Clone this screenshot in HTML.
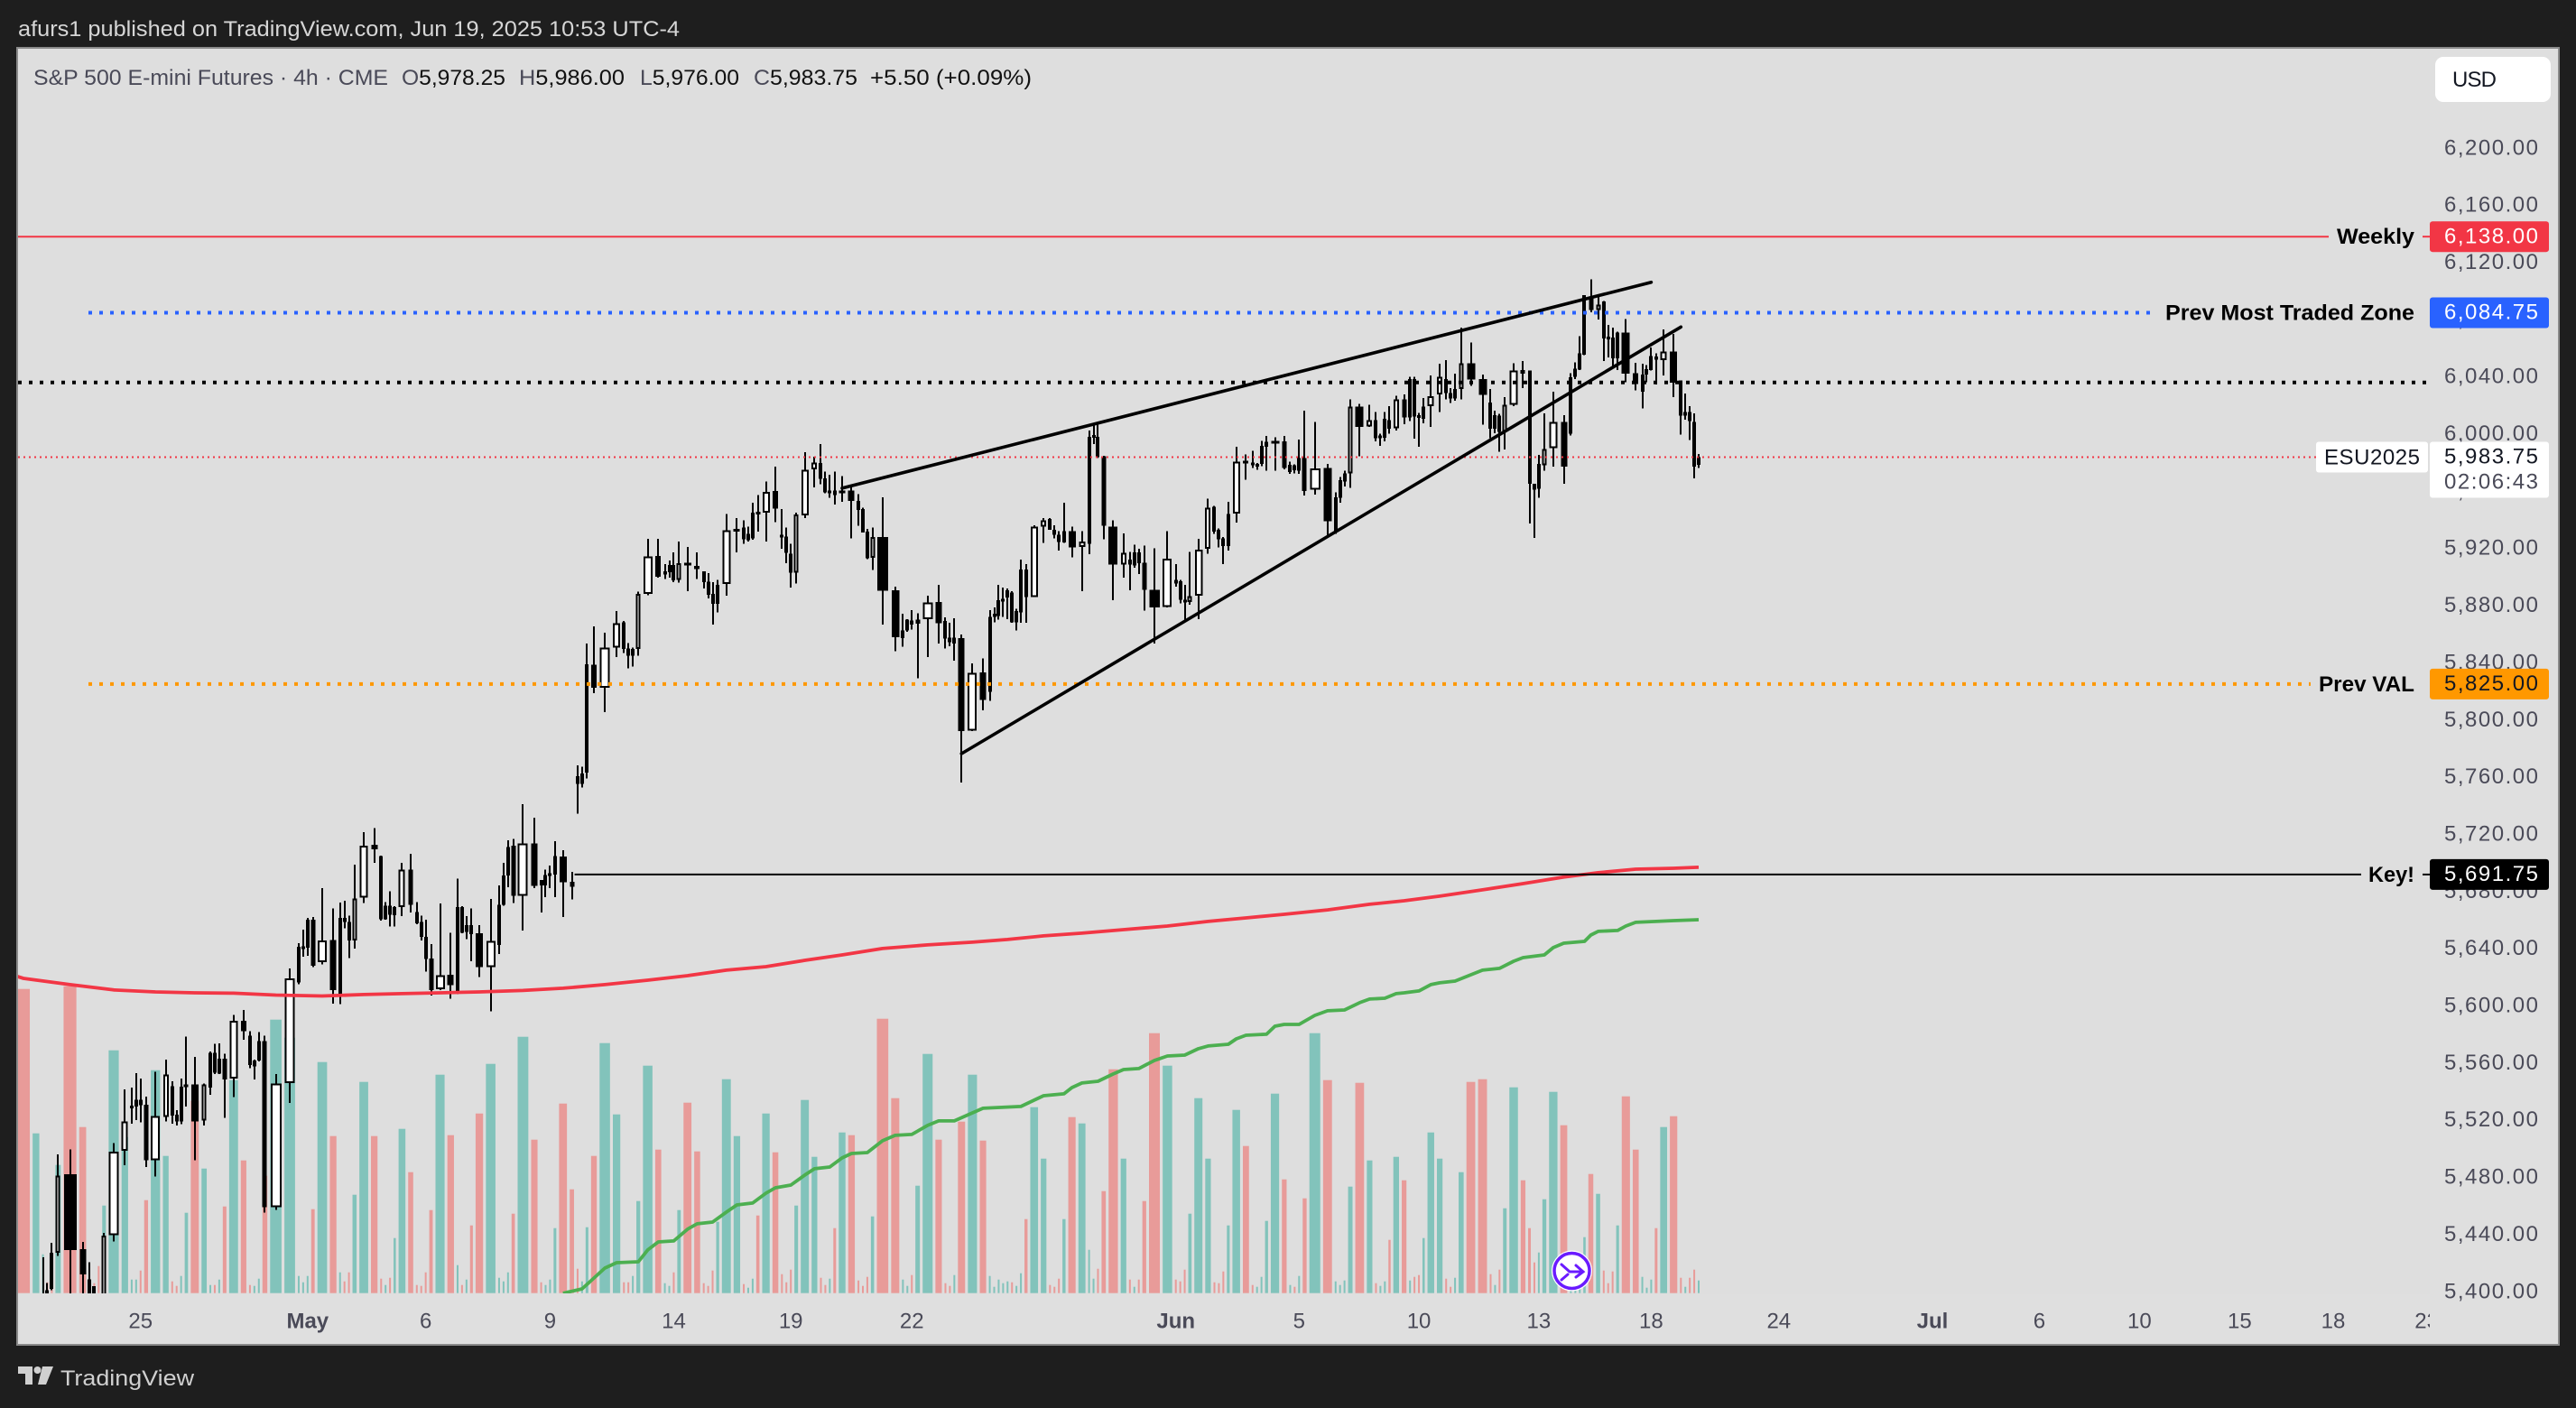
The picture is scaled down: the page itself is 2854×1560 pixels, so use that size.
<!DOCTYPE html>
<html lang="en">
<head>
<meta charset="utf-8">
<title>S&amp;P 500 E-mini Futures 4h chart</title>
<style>
html,body{margin:0;padding:0;background:#1e1e1e;width:2854px;height:1560px;overflow:hidden}
svg{display:block}
text{font-family:"Liberation Sans",sans-serif;font-size:24px}
</style>
</head>
<body>
<svg id="chart" xmlns="http://www.w3.org/2000/svg" width="2854" height="1560" viewBox="0 0 2854 1560">
  <defs>
    <clipPath id="pane-clip"><rect x="20" y="54" width="2672" height="1379"/></clipPath>
    <clipPath id="time-clip"><rect x="20" y="1434" width="2672" height="55"/></clipPath>
  </defs>
  <rect x="0" y="0" width="2854" height="1560" fill="#1e1e1e"/>
  <text x="20" y="40" fill="#d6d6d6" textLength="733" lengthAdjust="spacingAndGlyphs">afurs1 published on TradingView.com, Jun 19, 2025 10:53 UTC-4</text>
  <rect x="19" y="53" width="2816" height="1437" fill="#dedede" stroke="#8a8a8a" stroke-width="2"/>
  <rect x="2692" y="54" width="142" height="1435" fill="#dfdfdf"/>
  <rect x="20" y="1434" width="2672" height="55" fill="#dfdfdf"/>
  <g id="volume-layer" clip-path="url(#pane-clip)"></g>
  <g id="candle-layer" clip-path="url(#pane-clip)" shape-rendering="crispEdges"></g>
  <g id="ma-layer" clip-path="url(#pane-clip)"></g>
  <g id="level-layer" clip-path="url(#pane-clip)"></g>
  <g id="trend-layer" clip-path="url(#pane-clip)"></g>
  <g id="price-axis"></g>
  <g id="time-axis" clip-path="url(#time-clip)"></g>
  <g id="level-labels"></g>

  <g>
    <text x="37" y="94" fill="#4a4a58" textLength="393" lengthAdjust="spacingAndGlyphs">S&amp;P 500 E-mini Futures · 4h · CME</text>
    <text x="445" y="94" fill="#111" textLength="115" lengthAdjust="spacingAndGlyphs"><tspan fill="#4a4a58">O</tspan>5,978.25</text>
    <text x="575" y="94" fill="#111" textLength="117" lengthAdjust="spacingAndGlyphs"><tspan fill="#4a4a58">H</tspan>5,986.00</text>
    <text x="709" y="94" fill="#111" textLength="110" lengthAdjust="spacingAndGlyphs"><tspan fill="#4a4a58">L</tspan>5,976.00</text>
    <text x="835" y="94" fill="#111" textLength="115" lengthAdjust="spacingAndGlyphs"><tspan fill="#4a4a58">C</tspan>5,983.75</text>
    <text x="964" y="94" fill="#111" textLength="179" lengthAdjust="spacingAndGlyphs">+5.50 (+0.09%)</text>
  </g>

  <g>
    <rect x="2698" y="63" width="128" height="50" rx="9" fill="#ffffff"/>
    <text x="2717" y="96" fill="#131722" textLength="49">USD</text>
  </g>

  <g>
    <circle cx="1741.5" cy="1408" r="22.5" fill="#ffffff"/>
    <circle cx="1741.5" cy="1408" r="19.5" fill="#ffffff" stroke="#6a1bff" stroke-width="3.5"/>
    <path d="M1730 1401l9 8h15M1746 1402l8 7-8 6M1737 1412l-7 6" fill="none" stroke="#6a1bff" stroke-width="3" stroke-linecap="round"/>
  </g>

  <g>
    <path d="M20 1514h16v20h-8v-12h-8z" fill="#d0d0d0"/>
    <circle cx="41.500" cy="1518" r="4" fill="#d0d0d0"/>
    <path d="M47 1514h12l-8 20h-9z" fill="#d0d0d0"/>
    <text x="67" y="1535" fill="#d0d0d0" textLength="148" lengthAdjust="spacingAndGlyphs">TradingView</text>
  </g>
</svg>

<script>
// ---- Bar data ----
const opens = [
5390,5345,5380,5401,5427,5427,5482,5429.5,5408.5,5403.75,5395,5395,
5439.5,5498.5,5529.5,5529.5,5534.25,5530.75,5492,5522.25,5543.75,5523.75,5519,5543,
5544.75,5519.75,5542.75,5567,5552.5,5563,5549,5589.5,5579,5557.5,5561.5,5575.25,
5459,5545.75,5616.25,5641,5640.5,5660,5630.5,5646,5608.5,5661.25,5658.5,5645.75,
5675.75,5712.5,5704.75,5660.5,5670,5663.25,5669,5695.25,5665.5,5658.5,5648.25,5633,
5611.5,5621.5,5609,5669,5651.5,5656.25,5650.75,5627,5642.5,5670.5,5691,5711.75,
5677,5713.5,5688,5684,5691.5,5691.75,5704.25,5686.5,5760.5,5755.25,5763,5838.5,
5822.5,5850.5,5868.25,5850,5844.75,5849.5,5888,5914.5,5901.5,5903.25,5908.25,5898,
5910,5907.5,5903.75,5896.75,5888,5881,5895,5933.25,5934.5,5925.75,5926.75,5945.5,
5944.75,5960,5929.5,5928.25,5916.25,5903,5943,5975.25,5979.5,5969,5959.5,5960.5,
5958.5,5960.5,5953,5947.5,5931.5,5913.25,5928,5890.5,5857.25,5862.5,5869.5,5867.25,
5870.5,5882.25,5869,5857.5,5853.5,5857,5792.5,5833,5819.5,5872,5872.5,5883.25,
5885.5,5889,5868.25,5875,5905,5886,5935.25,5940.5,5933,5929.5,5924,5932,
5921,5923,5998.5,5998,5984.5,5935.25,5908.5,5912,5908,5917,5910,5891,
5879,5897.75,5897,5884,5882.25,5886.75,5919.5,5949,5933,5926.75,5921.5,5944.25,
5981.25,5980,5977,5979,5991,5994.5,5994.75,5973.25,5978,5974.25,5983.25,5961,
5976.25,5931,5955.25,5966.75,5972.5,6019,6005.25,6009.75,5997.75,5997.25,6009.75,6004,
6024,6011.5,6038.5,6013,6010.5,6019.5,6027.5,6038.5,6028.5,6024.75,6031.5,6049.5,
6038.5,6022,6003.5,6012.75,6001.5,6020.5,6044.75,6044.25,5965,5961.5,5978,5990,
6008.5,6000,6040,6045,6055.5,6094.75,6086.75,6092.75,6068,6067.5,6053,6071,
6042.5,6029.5,6041.5,6044.75,6054.25,6051.5,6057.75,6037.5,6012.75,6015.25,6008.5,5978.25
];
const highs = [
5395,5390,5424,5406,5434,5496,5499.5,5434.75,5420.5,5403.75,5397,5441,
5504,5541.5,5542.75,5552.75,5549,5536.25,5553.75,5562.25,5547,5527,5549,5578.5,
5564.25,5545.5,5568,5573.25,5573.5,5566.5,5593.5,5597,5582.25,5562.25,5581.5,5579,
5552,5626,5643.75,5653.25,5661.5,5662,5682.25,5668,5672,5673.25,5663,5698.5,
5721.25,5724.25,5705,5672.5,5680,5669.5,5700,5706.25,5672.5,5663,5660,5643,
5671.5,5651,5689,5669.5,5662.5,5668,5656.25,5674.5,5684,5700,5715.75,5716.75,
5741,5731.5,5688,5695.25,5698,5715,5708.75,5693.5,5768,5767.25,5853.25,5865.25,
5861,5876,5869,5853.75,5850.5,5889.75,5926.5,5926.5,5909,5911.5,5917,5924.75,
5921,5917,5903.75,5902.5,5896.25,5897.75,5944,5941,5939.5,5935.25,5951.75,5957.25,
5966.75,5977,5947.5,5934.5,5923.25,5944.75,5987.25,5984,5992.75,5973.75,5971.5,5973.75,
5970.5,5962.5,5958,5948.5,5933.5,5934.5,5955.75,5893,5874.25,5870.5,5876.75,5874.5,
5886.75,5894.25,5871.75,5868,5871,5859.5,5839.5,5843,5876.75,5878.75,5894.25,5892.5,
5891.75,5890,5877.5,5912,5909,5936,5941.25,5941,5936,5932,5952,5935.25,
5932,6002.25,6006.75,6006.75,5984.75,5939.5,5930.5,5917.5,5922.5,5919.5,5922,5920,
5932,5909,5898,5894.25,5917.5,5926.5,5954.75,5949.5,5933.75,5928,5952.5,5991,
5985.5,5988,5979.5,5995.25,5998.5,5997.75,5998.5,5980.5,5978.75,5996,6016.25,6008.5,
5979,5959.25,5970,5974.25,6024,6021,6020.5,6015.25,6000,6015.25,6019.5,6026.75,
6027.5,6040,6040,6014.75,6025,6041,6049,6051.5,6032,6042.25,6074.25,6064,
6041.5,6031.5,6016.25,6014,6025.75,6049.5,6051,6044.25,5965.25,5985.25,6014.25,6029.5,
6013,6042.5,6050,6068.5,6097,6108.25,6096.25,6093,6076.25,6074.25,6071.5,6080.5,
6049.75,6049,6048,6060.5,6056.25,6073,6070,6037.5,6028.25,6019.5,6014.5,5986
];
const lows = [
5340,5340,5370,5390,5401,5425,5395,5395,5390,5392,5385,5390,
5435,5488.5,5517.5,5520,5518.5,5487,5480.5,5519,5517.5,5516.25,5517,5529.5,
5491.75,5516.25,5537.5,5552,5552.25,5521.5,5536,5576.25,5556.25,5548.5,5561,5455.25,
5457,5532,5615,5634.25,5635,5627,5628.75,5601.5,5601,5654.25,5633.25,5640,
5671.75,5700,5659.5,5660,5655.25,5655.25,5662.5,5665.25,5657,5645.75,5623.75,5607,
5611,5604.75,5608,5650.75,5646.5,5631,5620,5596,5636.25,5670,5683,5671.75,
5652.5,5682.25,5665.25,5676,5682.25,5676,5662,5674.25,5734.25,5752.5,5759,5818.75,
5805.5,5844,5846.75,5836,5837.25,5844.75,5887,5899.5,5898.5,5899.5,5896.25,5896,
5890,5898.5,5892,5885,5866.75,5875,5886.75,5917.25,5923,5924.75,5926,5931.75,
5924.75,5938.25,5919.75,5909.5,5892.5,5895.25,5941,5962.5,5964.75,5958.5,5955.25,5950.5,
5952.5,5926.75,5935.75,5931,5912.5,5904.75,5866.75,5848,5851,5861.5,5863.25,5829,
5843.75,5853.5,5849.75,5851.5,5841.5,5756.25,5792,5806.75,5813.25,5868.25,5870,5872,
5870.5,5868,5862.5,5868,5868,5886,5923.75,5933,5926.75,5918.5,5923.75,5913.5,
5890,5916,5993,5983.25,5926.25,5883.75,5899.5,5890.5,5906.5,5902,5876.25,5853.25,
5878.75,5893.25,5881.5,5870,5880.5,5870.5,5916.25,5930,5920.5,5909,5918.5,5938,
5968,5976.25,5974.75,5977.5,5974.25,5974.25,5975.25,5972,5972.5,5972,5957,5957.5,
5928.5,5930,5952,5963.25,5962.25,5984.25,6004.75,5994.75,5991.5,5994.75,6000,6002.5,
6006.75,6009,5996.75,5991,6007.5,6005,6015.25,6024,6021.5,6023.25,6024,6033.75,
6006.5,5997,6000.5,5987.5,5989.25,6019.5,6032,5937.25,5927.25,5955.25,5974.25,5977.25,
5965,5999,6038.5,6044.75,6055,6085,6080,6051,6053.5,6047.25,6044.75,6036.25,
6030.5,6017.75,6036,6044.25,6034.5,6041,6025.75,5999.5,6010,5995.75,5969,5976
];
const closes = [
5350,5385,5390,5395,5402,5481,5429,5412,5395,5396,5390,5439,
5498,5519,5530,5534.25,5530.5,5492,5522.75,5551.75,5523.25,5519,5543.25,5544.75,
5519,5544.75,5567,5553.25,5563,5548.5,5589.5,5582.25,5558.5,5561.5,5575.25,5459,
5545.5,5619,5641.25,5641.5,5660,5628,5645.75,5611,5661.25,5658.5,5645.75,5675,
5712,5709.5,5660.5,5670,5663.75,5669,5695.25,5670.5,5657.75,5648.25,5632.5,5610.75,
5621.25,5614.25,5669,5651,5656.25,5650,5627,5645.25,5670.5,5691,5711,5676.75,
5713.5,5683.75,5684,5691.5,5692.75,5704.75,5686.25,5683.25,5755.25,5762.5,5838.75,5822.5,
5850.5,5867.5,5849.5,5844.75,5849.5,5888,5914.25,5900,5903.75,5908.25,5897.5,5909.5,
5908,5905.5,5896.25,5887.5,5881,5894.25,5932.5,5933.5,5926.25,5930,5944.75,5944.75,
5959.5,5947.75,5928.25,5916.75,5903,5943.75,5974.75,5980,5968.5,5959,5960.5,5957.25,
5960.5,5953,5946.75,5931,5913,5928,5890.25,5857.75,5862.5,5870,5866.75,5870,
5882,5867.5,5856.75,5854.25,5857.5,5792,5832.75,5814,5872,5874.25,5883.75,5884.75,
5890.5,5868.25,5876,5905,5885.75,5935.25,5939.5,5933,5929.5,5924.25,5932,5920.5,
5924.75,5998,5999.25,5983.75,5935.75,5908.5,5916.75,5908.5,5917,5909.5,5891,5878.75,
5912.75,5895.25,5884,5882.25,5886.5,5919,5948.25,5931.5,5926.25,5921.5,5944,5980.5,
5980.75,5978.5,5979,5991.75,5994.5,5995,5976,5978.5,5974.5,5983.25,5960,5975.75,
5938.75,5955.5,5967.5,5972.5,6019,6004.75,6009.5,5997,5998.75,6010.5,6003.5,6024,
6011.5,6038.5,6012,6012,6019,6026.5,6040,6028.5,6024.75,6031.5,6049.25,6038,
6027.25,6003.5,6013,6001.5,6020.5,6044.25,6042.25,5965,5961,5979,5989.5,6008.5,
5977.25,6039.5,6045.75,6056.25,6097,6086.5,6090.5,6066.75,6067,6053,6071,6042.25,
6034.75,6041.5,6045.25,6054.5,6052,6057.75,6035.75,6012.75,6015.25,6009,5977.25,5983.75
];
const volumes = [
337,177,43,12,14,142,340,184,10,11,30,97,
269,173,15,15,25,103,247,152,13,8,19,89,
213,138,9,9,15,96,236,147,9,8,16,130,
303,283,19,12,19,93,256,174,23,13,23,109,
234,174,16,9,17,61,182,134,9,8,23,92,
242,175,31,9,15,75,199,254,17,13,23,88,
284,170,12,9,15,72,210,115,27,13,73,152,
277,198,12,12,19,102,252,159,11,8,23,92,
211,157,11,8,25,79,237,174,10,6,16,86,
199,156,21,12,26,97,214,151,17,9,16,72,
178,175,14,8,18,85,304,216,15,8,20,119,
265,170,11,8,20,190,242,169,19,7,15,11,
13,12,8,22,82,206,149,9,7,16,82,195,
188,48,16,27,113,248,149,15,7,15,102,288,
252,15,13,26,88,216,149,12,11,24,75,203,
163,9,7,18,80,221,126,9,7,19,105,288,
236,13,9,14,118,233,147,11,8,13,59,151,
125,14,18,20,61,178,149,16,7,17,134,234,
237,21,9,26,94,228,125,72,34,45,104,223,
186,30,25,20,62,132,110,25,11,24,75,218,
159,18,6,15,72,184,196,17,7,17,26,14
];

// ---- Moving averages, sampled at bar numbers ----
const redMaBars = [-1,0,6,12,18,24,30,36,42,48,54,60,66,72,78,84,90,96,102,108,114,120,126,132,138,144,150,156,162,168,174,180,186,192,198,204,210,216,222,228,234,240,246,251];
const redMaValues = [5621.6,5619.1,5614.7,5611,5609.6,5609,5608.7,5607.4,5606.8,5607.8,5608.4,5609,5609.6,5610.6,5612.2,5614.7,5617.8,5621,5624.8,5627.3,5631.7,5635.5,5640,5642.5,5644.4,5646.3,5648.8,5650.7,5653.2,5655.7,5658.9,5661.4,5663.9,5667,5670.9,5673.4,5676.6,5681,5685.4,5689.9,5693,5695.5,5696.1,5696.8];
const greenMaBars = [78,81,84,85,89,90,91,94,96,97,100,102,103,106,108,109,112,114,115,118,120,121,124,126,127,130,132,133,136,138,139,147,149,150,154,155,156,159,161,162,165,167,168,171,173,174,178,179,180,184,185,186,189,191,192,195,197,198,201,203,204,207,209,210,213,215,216,219,221,222,226,227,228,232,233,234,238,239,240,244,246,251];
const greenMaValues = [5398.8,5401.9,5416.4,5420.2,5420.8,5429.1,5434.7,5435.4,5443.6,5447.4,5448.6,5455.6,5460.6,5461.9,5468.8,5472.6,5474.5,5481.5,5485.9,5487.1,5493.5,5496.6,5497.2,5505.5,5509.3,5509.9,5516.2,5519.4,5519.4,5525,5528.2,5529.5,5533.9,5537,5538.3,5542.7,5545.9,5547.1,5552.2,5555.3,5556,5561.7,5564.8,5565.4,5569.9,5571.8,5573,5576.8,5579.3,5580,5585.6,5586.9,5586.9,5593.2,5596.4,5597,5602.1,5604.6,5605.2,5608.4,5609,5610.3,5614.7,5616,5617.2,5621.6,5624.8,5626.1,5631.1,5633.6,5635.5,5640.6,5643.7,5645,5649.4,5652,5652.6,5655.7,5658.3,5658.9,5659.5,5660.1];

// ---- Axis labels ----
const priceTicks = [6200,6160,6120,6080,6040,6000,5960,5920,5880,5840,5800,5760,5720,5680,5640,5600,5560,5520,5480,5440,5400];
const timeTickLabels = ["25","May","6","9","14","19","22","Jun","5","10","13","18","24","Jul","6","10","15","18","23"];
const timeTickBars = [16,40,58,76,94,112,130,169,189,207,225,243,263,286,302,317,332,346,360];
const timeTickMajor = ["May","Jun","Jul"];

// ---- Drawn objects ----
const upperTrendBars = [120,243];
const upperTrendPrices = [5962,6106.1];
const lowerTrendBars = [137,247];
const lowerTrendPrices = [5776.3,6074.8];
const weeklyPrice = 6138;
const tradedZonePrice = 6084.75;
const blackDottedPrice = 6036;
const lastPrice = 5983.75;
const prevValPrice = 5825;
const keyPrice = 5691.75;

// ---- Axis functions ----
function yPrice(p){ return 164 + (6200 - p) * 1.5837; }
function yVolume(v){ return 1432.7 - v; }
function barWidth(v){ return Math.max(2, v / 24); }

const rawX = [0];
for (let i = 1; i < volumes.length; i++) {
  rawX[i] = rawX[i-1] + (barWidth(volumes[i-1]) + barWidth(volumes[i])) / 2 + 2.8;
}
const xFirst = 26, xLast = 1882;
const xFactor = (xLast - xFirst) / rawX[rawX.length - 1];
function xBar(i){
  if (i < 0) return xFirst + i * 13;
  if (i >= volumes.length) return xLast + (i - volumes.length + 1) * 7.4;
  return xFirst + rawX[i] * xFactor;
}

const NS = "http://www.w3.org/2000/svg";
function make(tag, parent, attrs){
  const el = document.createElementNS(NS, tag);
  for (const k in attrs) el.setAttribute(k, attrs[k]);
  parent.appendChild(el);
  return el;
}
function fmtPrice(p){
  const s = p.toFixed(2);
  return s.charAt(0) + "," + s.slice(1);
}

// ---- Volume bars ----
const volumeLayer = document.getElementById("volume-layer");
volumes.forEach(function(v, i){
  const w = barWidth(v);
  const up = closes[i] >= opens[i];
  const el = make("rect", volumeLayer, {x: xBar(i) - w/2, y: yVolume(v), width: w, height: v, fill: up ? "#82c3bb" : "#e89b99"});
  
  
});

// ---- Candles ----
const candleLayer = document.getElementById("candle-layer");
opens.forEach(function(o, i){
  const c = closes[i];
  const x = Math.round(xBar(i));
  const v = volumes[i];
  const cw = v >= 85 ? Math.max(5.4, barWidth(v) - 0.5) : 3.6;
  const yTop = yPrice(Math.max(o, c));
  const yBot = yPrice(Math.min(o, c));
  const h = Math.max(3, yBot - yTop);
  const wick = make("rect", candleLayer, {x: x - 1, y: yPrice(highs[i]), width: 2, height: yPrice(lows[i]) - yPrice(highs[i]), fill: "#000"});
  
  
  const body = make("rect", candleLayer, {x: x - cw/2, y: yTop, width: cw, height: h, fill: "#000"});
  
  
  if (c > o && cw >= 5 && h >= 5) {
    const inner = make("rect", candleLayer, {x: x - cw/2 + 2, y: yTop + 2, width: cw - 4, height: h - 4, fill: "#fff"});
    
    
  }
});

// ---- Moving averages ----
function linePoints(bars, values){
  return bars.map(function(b, i){ return xBar(b).toFixed(1) + "," + yPrice(values[i]).toFixed(1); }).join(" ");
}
const maLayer = document.getElementById("ma-layer");
const redMa = make("polyline", maLayer, {points: linePoints(redMaBars, redMaValues), fill: "none", stroke: "#f23645", "stroke-width": 3.8, "stroke-linejoin": "round"});


const greenMa = make("polyline", maLayer, {points: linePoints(greenMaBars, greenMaValues), fill: "none", stroke: "#4caf50", "stroke-width": 3.8, "stroke-linejoin": "round"});



// ---- Horizontal levels ----
const levelLayer = document.getElementById("level-layer");
const weeklyLine = make("line", levelLayer, {x1: 20, x2: 2580, y1: yPrice(weeklyPrice), y2: yPrice(weeklyPrice), stroke: "#f23645", "stroke-width": 2});


const weeklyStub = make("line", levelLayer, {x1: 2684, x2: 2692, y1: yPrice(weeklyPrice), y2: yPrice(weeklyPrice), stroke: "#f23645", "stroke-width": 2});


const zoneLine = make("line", levelLayer, {x1: 98, x2: 2384, y1: yPrice(tradedZonePrice), y2: yPrice(tradedZonePrice), stroke: "#2962ff", "stroke-width": 4, "stroke-dasharray": "4 8"});


const blackLine = make("line", levelLayer, {x1: 20, x2: 2690, y1: yPrice(blackDottedPrice), y2: yPrice(blackDottedPrice), stroke: "#000", "stroke-width": 4, "stroke-dasharray": "4 8"});


const lastLine = make("line", levelLayer, {x1: 20, x2: 2566, y1: yPrice(lastPrice), y2: yPrice(lastPrice), stroke: "#f23645", "stroke-width": 2, "stroke-dasharray": "2 4"});


const valLine = make("line", levelLayer, {x1: 98, x2: 2560, y1: yPrice(prevValPrice), y2: yPrice(prevValPrice), stroke: "#ff9800", "stroke-width": 4, "stroke-dasharray": "4 8"});


const keyLine = make("line", levelLayer, {x1: xBar(79) + 3, x2: 2616, y1: yPrice(keyPrice), y2: yPrice(keyPrice), stroke: "#000", "stroke-width": 2});


const keyStub = make("line", levelLayer, {x1: 2684, x2: 2692, y1: yPrice(keyPrice), y2: yPrice(keyPrice), stroke: "#000", "stroke-width": 2});



// ---- Trendlines ----
const trendLayer = document.getElementById("trend-layer");
const upperTrend = make("line", trendLayer, {x1: xBar(upperTrendBars[0]), x2: xBar(upperTrendBars[1]), y1: yPrice(upperTrendPrices[0]), y2: yPrice(upperTrendPrices[1]), stroke: "#000", "stroke-width": 3.6, "stroke-linecap": "round"});


const lowerTrend = make("line", trendLayer, {x1: xBar(lowerTrendBars[0]), x2: xBar(lowerTrendBars[1]), y1: yPrice(lowerTrendPrices[0]), y2: yPrice(lowerTrendPrices[1]), stroke: "#000", "stroke-width": 3.6, "stroke-linecap": "round"});



// ---- Price axis ----
const priceAxis = document.getElementById("price-axis");
priceTicks.forEach(function(p){
  const t = make("text", priceAxis, {x: 2708, y: yPrice(p) + 7.3, fill: "#4a4a58", textLength: 104});
  
  
  t.textContent = fmtPrice(p);
});

// ---- Time axis ----
const timeAxis = document.getElementById("time-axis");
timeTickLabels.forEach(function(label, i){
  const major = timeTickMajor.indexOf(label) >= 0;
  const t = make("text", timeAxis, {x: xBar(timeTickBars[i]), y: 1471.5, fill: "#4a4a58", "text-anchor": "middle", "font-weight": major ? "700" : "400"});
  
  
  t.textContent = label;
});

// ---- Level labels ----
const labelLayer = document.getElementById("level-labels");
function priceBox(name, price, fill, color){
  const yc = yPrice(price);
  const r = make("rect", labelLayer, {x: 2692, y: yc - 17, width: 132, height: 34, rx: 3, fill: fill});
  
  
  const t = make("text", labelLayer, {x: 2708, y: yc + 7.2, fill: color, textLength: 104});
  
  
  t.textContent = fmtPrice(price);
}
function levelText(name, text, price, len){
  const t = make("text", labelLayer, {x: 2675 - len, y: yPrice(price) + 8, fill: "#000", "font-weight": "700", textLength: len, lengthAdjust: "spacingAndGlyphs"});
  
  
  t.textContent = text;
}
priceBox('weekly', weeklyPrice, '#f23645', '#ffffff');
levelText('weekly', 'Weekly', weeklyPrice, 86);
priceBox('zone', tradedZonePrice, '#2962ff', '#ffffff');
levelText('zone', 'Prev Most Traded Zone', tradedZonePrice, 276);
priceBox('val', prevValPrice, '#ff9800', '#131722');
levelText('val', 'Prev VAL', prevValPrice, 106);
priceBox('key', keyPrice, '#000000', '#ffffff');
levelText('key', 'Key!', keyPrice, 51);

// Last price tag
const lastY = yPrice(lastPrice);
const symBox = make("rect", labelLayer, {x: 2566, y: lastY - 17, width: 124, height: 34, rx: 3, fill: "#fff"});


const symText = make("text", labelLayer, {x: 2575, y: lastY + 8, fill: "#131722", textLength: 106});


symText.textContent = "ESU2025";
const lastBox = make("rect", labelLayer, {x: 2692, y: lastY - 17, width: 132, height: 62, rx: 3, fill: "#fff"});


const lastText = make("text", labelLayer, {x: 2708, y: lastY + 7.2, fill: "#131722", textLength: 104});


lastText.textContent = fmtPrice(lastPrice);
const countdown = make("text", labelLayer, {x: 2708, y: lastY + 35, fill: "#4a4a58", textLength: 104});


countdown.textContent = "02:06:43";
</script>
</body>
</html>
